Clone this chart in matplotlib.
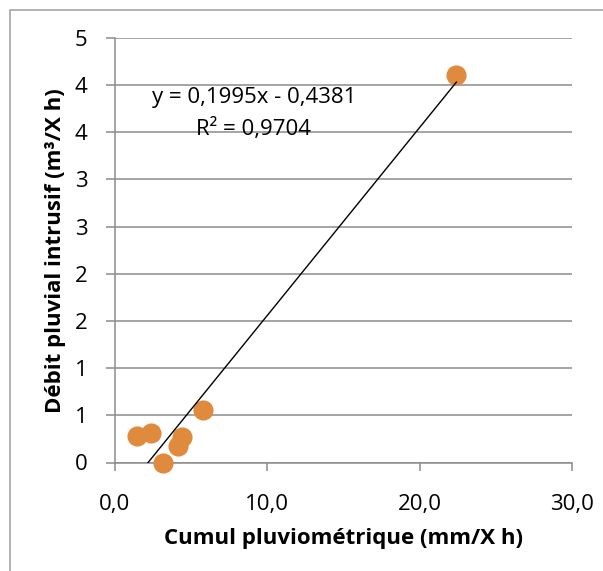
import matplotlib

matplotlib.use("Agg")

import matplotlib.pyplot as plt
import matplotlib.patches
import matplotlib.ticker

# data
cumul_mm = [1.49, 2.37, 3.20, 4.16, 4.39, 5.77, 22.40]
debit_m3 = [0.28, 0.31, 0.00, 0.17, 0.27, 0.56, 4.11]

slope = 0.1995
intercept = -0.4381
r2 = 0.9704

x_ticks = [0, 10, 20, 30]
x_tick_labels = ["0,0", "10,0", "20,0", "30,0"]
y_ticks = [0, 0.5, 1, 1.5, 2, 2.5, 3, 3.5, 4, 4.5]
y_tick_labels = ["0", "1", "1", "2", "2", "3", "3", "4", "4", "5"]

GRID = "#8c8c8c"
ORANGE = "#df8a3d"


def fr(v):
    return ("%.4f" % v).replace(".", ",")


def _run():
    plt.rcParams["font.family"] = ["Open Sans", "DejaVu Sans"]
    w, h = 603, 571
    fig = plt.figure(figsize=(w / 100, h / 100), dpi=100)

    # chart area border (only the left and top edges are in view)
    fig.patches.append(matplotlib.patches.Rectangle(
        (10 / w, -0.1), 1.2, 1.1 - 10 / h, transform=fig.transFigure,
        fill=False, edgecolor="#a6a6a6", linewidth=1.2))

    ax = fig.add_axes((114.6 / w, 1 - 462.5 / h, (572.3 - 114.6) / w, (462.5 - 37.9) / h))
    ax.set_xlim(0, 30)
    ax.set_ylim(0, 4.5)

    ax.set_xticks(x_ticks)
    ax.set_xticklabels(x_tick_labels)
    ax.yaxis.set_major_locator(matplotlib.ticker.FixedLocator(y_ticks))
    ax.set_yticklabels(y_tick_labels)

    ax.grid(axis="y", color=GRID, linewidth=1.1)
    ax.set_axisbelow(True)
    for side in ("top", "right"):
        ax.spines[side].set_visible(False)
    for side in ("left", "bottom"):
        ax.spines[side].set_color(GRID)
        ax.spines[side].set_linewidth(1.1)
    ax.tick_params(axis="x", length=6, width=1.1, color=GRID, pad=17, labelsize=16)
    ax.tick_params(axis="y", length=6.5, width=1.1, color=GRID, pad=13, labelsize=16)

    ax.plot(cumul_mm, debit_m3, "o", color=ORANGE, markersize=13.5, clip_on=False, zorder=3)

    x0, x1 = min(cumul_mm), max(cumul_mm)
    ax.plot([x0, x1], [slope * x0 + intercept, slope * x1 + intercept],
            color="black", linewidth=1.0, zorder=4)

    ax.text(9.13, 3.867, "y = %sx - %s" % (fr(slope), fr(-intercept)),
            ha="center", va="center", fontsize=16)
    ax.text(9.13, 3.534, "R² = %s" % fr(r2), ha="center", va="center", fontsize=16)

    ax.set_xlabel("Cumul pluviométrique (mm/X h)", fontsize=16, fontweight="bold", labelpad=9)
    ax.set_ylabel("Débit pluvial intrusif (m³/X h)", fontsize=16, fontweight="bold", labelpad=6)

    fig.savefig("out.png", dpi=100)


if __name__ == "__main__":
    _run()
